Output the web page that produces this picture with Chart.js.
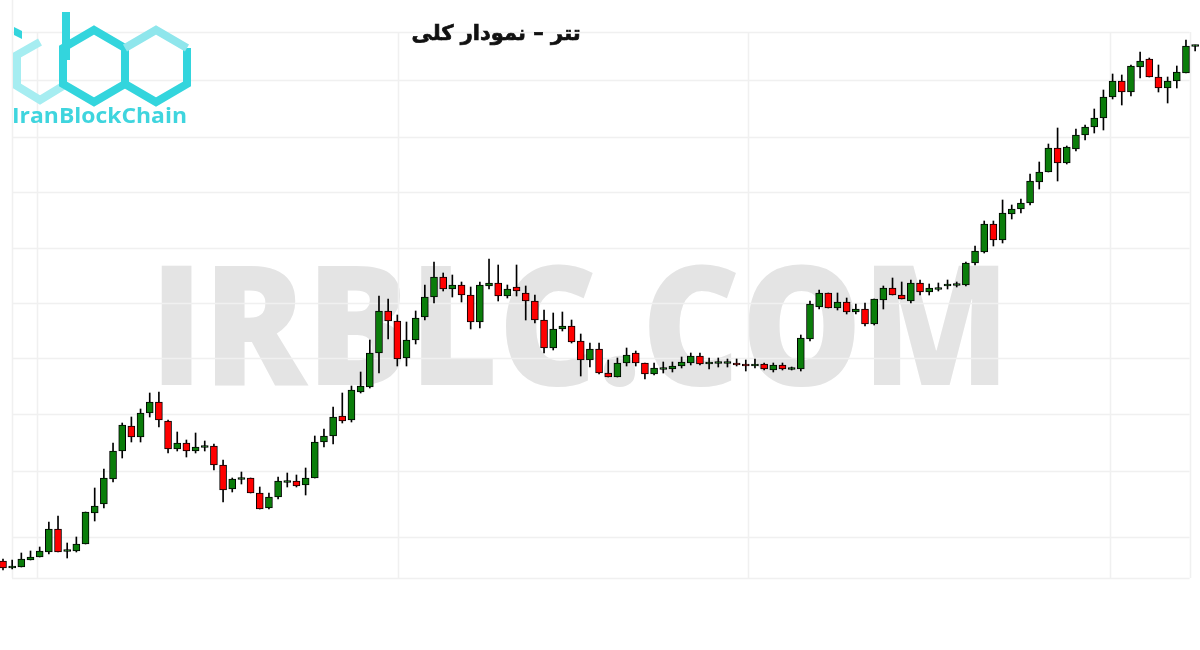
<!DOCTYPE html>
<html><head><meta charset="utf-8">
<script src="https://cdn.jsdelivr.net/npm/chart.js@4"></script>
<style>
html,body{margin:0;padding:0;background:#fff;}
#wrap{position:relative;width:1200px;height:650px;overflow:hidden;background:#fff;}
#bg,#fg,canvas{position:absolute;left:0;top:0;}
#fg{pointer-events:none;}
</style></head><body>
<div id="wrap">
<svg id="bg" width="1200" height="650">
  <text x="150" y="385" textLength="860" lengthAdjust="spacingAndGlyphs" font-family="Open Sans, DejaVu Sans, sans-serif" font-weight="800" font-size="166" fill="#e4e4e4">IRBLC.COM</text>
</svg>
<canvas id="c" width="1200" height="650"></canvas>
<svg id="fg" width="1200" height="650">
  <g fill="none" stroke-linejoin="miter" stroke-width="8">
    <polyline points="40,42 17,55 17,86 40,100 63,86" stroke="#a6edf1"/>
    <polygon points="14,27 22,31 22,39 14,35" fill="#33d5dd" stroke="none"/>
    <line x1="66" y1="12" x2="66" y2="60" stroke="#33d5dd"/>
    <polygon points="94,30 125,48 125,84 94,102 63,84 63,48" stroke="#33d5dd"/>
    <polyline points="125,84 156,102 187,84 187,48" stroke="#33d5dd"/>
    <polyline points="187,48 156,30 125,48" stroke="#8fe6ec"/>
  </g>
  <text x="12" y="123" textLength="175" lengthAdjust="spacingAndGlyphs" font-family="Open Sans, DejaVu Sans, sans-serif" font-weight="700" font-size="21" fill="#3fd5de">IranBlockChain</text>
  <text x="496" y="40" text-anchor="middle" direction="rtl" font-family="DejaVu Sans, sans-serif" font-weight="700" font-size="21" fill="#111" stroke="#111" stroke-width="0.7" paint-order="stroke">تتر – نمودار کلی</text>
</svg>
</div>
<script>
const opens = [
89,82,83,90,93,98,121,99,99,106,
137,146,171,199,224,213,237,248,229,201,
207,199,203,204,185,161,171,172,157,142,
153,168,169,165,172,208,214,234,230,258,
263,297,339,329,292,310,333,353,373,361,
365,355,328,364,367,354,363,357,349,330,
302,321,324,309,290,301,277,273,287,297,
287,276,281,281,284,287,294,286,287,287,
287,286,284,286,280,285,281,281,311,343,
357,342,348,338,341,326,350,362,355,349,
367,358,361,364,365,365,387,398,426,410,
436,441,447,468,478,502,487,501,515,523,
532,553,569,558,583,591,573,562,569,577,
604];
const highs = [
91,90,97,99,103,128,134,107,113,138,
162,181,207,227,233,241,257,258,230,218,
210,217,209,206,190,172,178,172,163,157,
173,177,175,182,214,221,243,257,264,278,
310,354,351,335,328,339,365,388,377,375,
368,363,368,391,385,365,385,364,355,340,
337,338,330,316,307,307,290,292,302,299,
287,287,288,288,293,297,297,292,292,291,
291,290,291,287,287,287,283,315,349,360,
357,357,352,346,347,351,364,372,368,370,
370,366,367,370,368,388,404,429,429,450,
445,451,476,488,506,522,504,521,525,541,
560,576,575,585,598,592,585,573,584,610,
605];
const lows = [
80,81,83,90,93,96,98,92,98,106,
129,142,168,192,208,208,233,223,197,199,
193,197,199,180,148,158,166,157,141,141,
151,163,163,155,172,203,206,227,228,257,
262,277,311,284,284,306,330,347,359,353,
348,321,322,361,349,352,354,330,327,297,
300,319,307,274,283,276,273,273,284,284,
271,275,277,278,282,285,285,281,283,283,
284,279,282,280,278,280,280,279,309,341,
342,340,336,336,324,325,341,355,351,347,
355,355,359,361,363,364,385,397,404,407,
431,437,445,461,478,469,486,499,510,517,
520,551,545,554,572,573,558,547,562,577,
599];
const closes = [
82,84,91,93,99,121,98,100,106,138,
144,172,199,225,213,237,248,230,201,207,
199,203,204,185,160,171,172,157,141,153,
169,169,164,172,208,214,233,229,260,264,
297,339,329,291,310,332,353,373,361,365,
355,328,365,367,354,361,359,349,330,302,
321,324,308,290,301,277,273,287,295,287,
276,282,282,284,288,294,286,288,288,288,
285,284,286,281,285,281,282,312,346,357,
342,348,338,341,326,351,362,355,351,367,
358,362,362,366,366,387,399,426,410,437,
441,447,469,478,502,487,503,515,523,532,
553,569,558,584,589,573,562,569,578,604,
605];
// faint background grid (value units of the axes)
const gridYValues = [618,570,513,458,402,347,292,236,179,113];
const boxBottomValue = 72;
const gridXValues = [0.98,3.71,43.08,81.24,120.72,129.4];

const UP = '#0a7d0a', DOWN = '#ff0000';
const idx = opens.map((_, i) => i);
const wickData = idx.map(i => ({x: i, y: [lows[i], highs[i]]}));
const bodyData = idx.map(i => {
  let lo = Math.min(opens[i], closes[i]), hi = Math.max(opens[i], closes[i]);
  if (hi - lo < 2) { const m = (hi + lo) / 2; lo = m - 1; hi = m + 1; }
  return {x: i, y: [lo, hi]};
});
const bodyColors = idx.map(i => closes[i] >= opens[i] ? UP : DOWN);

const gridPlugin = {
  id: 'bggrid',
  beforeDatasetsDraw(chart) {
    const {ctx, scales: {x, y}} = chart;
    ctx.save();
    ctx.strokeStyle = '#f0f0f0';
    ctx.lineWidth = 1.5;
    const xl = x.getPixelForValue(gridXValues[0]);
    const xr = x.getPixelForValue(gridXValues[gridXValues.length - 1]);
    const yb = y.getPixelForValue(boxBottomValue);
    const yt = y.getPixelForValue(gridYValues[0]);
    gridYValues.forEach(v => {
      const py = Math.round(y.getPixelForValue(v)) + 0.5;
      ctx.beginPath(); ctx.moveTo(xl, py); ctx.lineTo(xr, py); ctx.stroke();
    });
    ctx.beginPath(); ctx.moveTo(xl, Math.round(yb) + 0.5); ctx.lineTo(xr, Math.round(yb) + 0.5); ctx.stroke();
    gridXValues.forEach((v, k) => {
      const px = Math.round(x.getPixelForValue(v)) + 0.5;
      ctx.beginPath(); ctx.moveTo(px, k === 0 ? 0 : yt); ctx.lineTo(px, yb); ctx.stroke();
    });
    ctx.restore();
  }
};

new Chart(document.getElementById('c'), {
  type: 'bar',
  data: {
    datasets: [
      {label: 'wick', data: wickData, backgroundColor: '#000', borderWidth: 0,
       barThickness: 1, grouped: false, order: 2},
      {label: 'body', data: bodyData, backgroundColor: bodyColors, borderColor: '#000',
       borderWidth: 1, borderSkipped: false, barThickness: 7, grouped: false, order: 1}
    ]
  },
  options: {
    responsive: false,
    animation: false,
    devicePixelRatio: 1,
    layout: {padding: 0},
    plugins: {legend: {display: false}, title: {display: false}, tooltip: {enabled: false}},
    scales: {
      x: {type: 'linear', display: false, min: -0.327, max: 130.53, offset: false},
      y: {type: 'linear', display: false, min: 0, max: 650}
    }
  },
  plugins: [gridPlugin]
});
</script>
</body></html>
